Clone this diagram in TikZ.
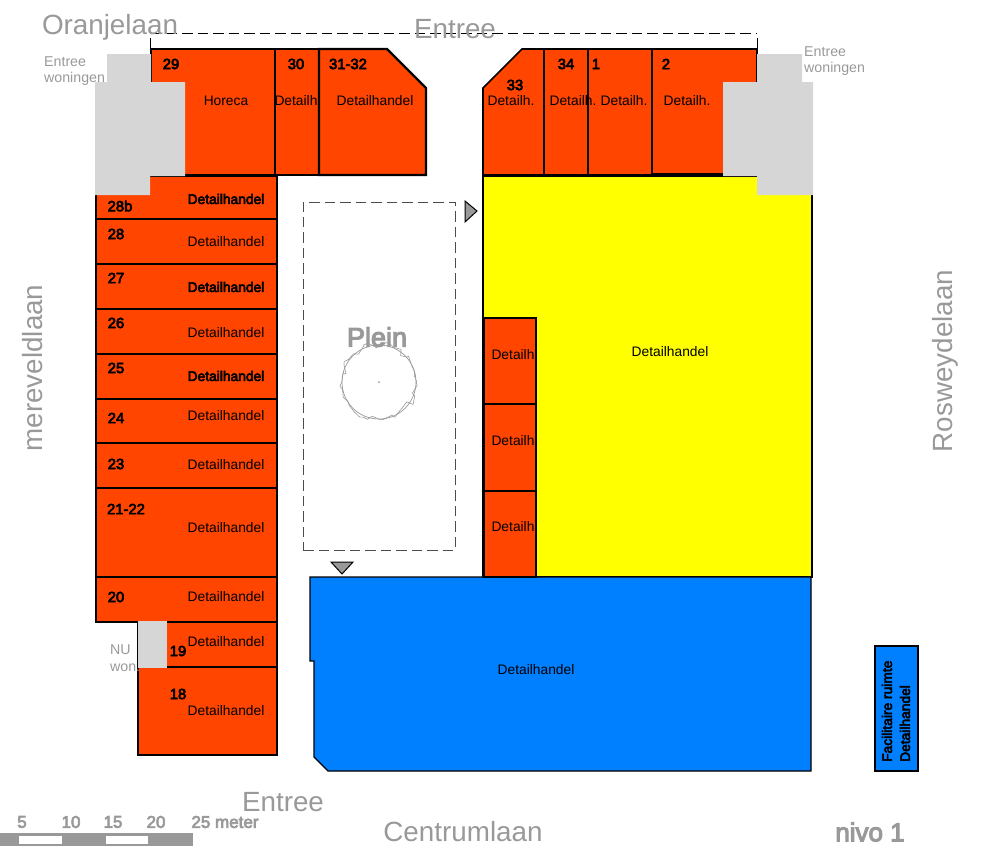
\documentclass[tikz,border=0pt]{standalone}
\usepackage{fontspec}
\setmainfont{Liberation Sans}
\newfontfamily\heavyfont[FakeBold=4]{Liberation Sans}
\usepackage{xcolor}
\usepackage{tikz}
\usetikzlibrary{decorations.pathmorphing}
\definecolor{shoporange}{HTML}{FF4500}
\definecolor{hallblue}{HTML}{0080FF}
\definecolor{hallyellow}{HTML}{FFFF00}
\definecolor{blockgrey}{HTML}{D6D6D6}
\definecolor{labelgrey}{HTML}{999999}
\tikzstyle{shop} = [rectangle, anchor=north west, inner sep=0pt, outer sep=0pt, draw=black, line width=2.4pt, fill=shoporange]
\tikzstyle{outline} = [draw=black, line width=1.4pt]
\tikzstyle{housing} = [fill=blockgrey, draw=none]
\tikzstyle{marker} = [fill=labelgrey, draw=black, line width=1pt]
\tikzstyle{street} = [inner sep=0pt, text=labelgrey, font=\fontsize{27.8}{27.8}\selectfont]
\tikzstyle{smallgrey} = [inner sep=0pt, anchor=west, text=labelgrey, font=\fontsize{14.2}{14.2}\selectfont]
\tikzstyle{scalenum} = [inner sep=0pt, text=labelgrey, font=\heavyfont\fontsize{17}{17}\selectfont]
\tikzstyle{trade} = [inner sep=0pt, yshift=-1pt, font=\fontsize{13.8}{13.8}\selectfont]
\tikzstyle{tradeheavy} = [inner sep=0pt, yshift=-1pt, font=\heavyfont\fontsize{13.8}{13.8}\selectfont]
\tikzstyle{unit} = [inner sep=0pt, font=\heavyfont\fontsize{14.8}{14.8}\selectfont]

\begin{document}
\begin{tikzpicture}[x=1pt, y=-1pt]
    \useasboundingbox (0,0) rectangle (982,860);

    % large halls
    \draw [outline, fill=hallyellow] (483,176) -- (812,176) -- (812,577) -- (483,577) -- cycle;
    \draw [outline, fill=hallblue] (310,577) -- (811,577) -- (811,771) -- (328,771) -- (314,757) -- (314,661) -- (310,661) -- cycle;
    \node (facility) [shop, fill=hallblue, minimum width=43pt, minimum height=125pt] at (875,646) {};

    % left column
    \node (s28b) [shop, minimum width=181pt, minimum height=43pt] at (96,176) {};
    \node (s28) [shop, minimum width=181pt, minimum height=45pt] at (96,219) {};
    \node (s27) [shop, minimum width=181pt, minimum height=45pt] at (96,264) {};
    \node (s26) [shop, minimum width=181pt, minimum height=45pt] at (96,309) {};
    \node (s25) [shop, minimum width=181pt, minimum height=45pt] at (96,354) {};
    \node (s24) [shop, minimum width=181pt, minimum height=44pt] at (96,399) {};
    \node (s23) [shop, minimum width=181pt, minimum height=45pt] at (96,443) {};
    \node (s21) [shop, minimum width=181pt, minimum height=89pt] at (96,488) {};
    \node (s20) [shop, minimum width=181pt, minimum height=45pt] at (96,577) {};
    \node (s19) [shop, minimum width=139pt, minimum height=45pt] at (138,622) {};
    \node (s18) [shop, minimum width=139pt, minimum height=88pt] at (138,667) {};

    % top left block
    \node (s29) [shop, minimum width=124pt, minimum height=126pt] at (151,49) {};
    \node (s30) [shop, minimum width=44pt, minimum height=126pt] at (275,49) {};
    \draw [shop] (319,49) -- (387,49) -- (426,88) -- (426,175) -- (319,175) -- cycle;

    % top right block
    \draw [shop, line width=1.6pt] (483,88) -- (522,49) -- (544,49) -- (544,175) -- (483,175) -- cycle;
    \node (s34) [shop, line width=1.6pt, minimum width=44pt, minimum height=126pt] at (544,49) {};
    \node (s1) [shop, line width=1.6pt, minimum width=64pt, minimum height=126pt] at (588,49) {};
    \node (s2) [shop, line width=1.6pt, minimum width=105pt, minimum height=125pt] at (652,49) {};

    % units inside the yellow hall
    \node (in1) [shop, minimum width=52pt, minimum height=86pt] at (484,318) {};
    \node (in2) [shop, minimum width=52pt, minimum height=87pt] at (484,404) {};
    \node (in3) [shop, minimum width=52pt, minimum height=86pt] at (484,491) {};

    % housing entrances
    \draw [housing] (107,54) -- (151,54) -- (151,82) -- (185,82) -- (185,176) -- (150,176) -- (150,195) -- (95,195) -- (95,82) -- (107,82) -- cycle;
    \draw [housing] (757,54) -- (802,54) -- (802,82) -- (813,82) -- (813,195) -- (757,195) -- (757,176) -- (723,176) -- (723,82) -- (757,82) -- cycle;

    \node (nu) [smallgrey] at (110,650) {NU};
    \node (won) [smallgrey] at (110,668) {won.};
    \draw [housing] (138,621) rectangle (167,668);

    % square, dashed limits
    \node (plot) [rectangle, anchor=north west, inner sep=0pt, minimum width=152pt, minimum height=348pt, draw=black!70, line width=0.8pt, dash pattern=on 10.5pt off 5pt] at (303,202) {};
    \coordinate (dashL) at (151,33);
    \coordinate (dashR) at (757,33);
    \draw [black, line width=0.8pt, dash pattern=on 10.5pt off 5pt] (dashL) -- (dashR);
    \draw [black, line width=0.8pt] (150,38) -- (150,50);
    \draw [black, line width=0.8pt] (757,38) -- (757,50);

    % tree
    \draw [labelgrey, line width=0.7pt] (379,382) circle (37);
    \draw [labelgrey, line width=0.6pt, decorate, decoration={random steps, segment length=5pt, amplitude=3.5pt}] (379,382) circle (37);
    \fill [labelgrey] (379,382) circle (1);

    % entrance markers
    \draw [marker, line join=miter] (465,201) -- (477,211) -- (465,222) -- cycle;
    \draw [marker] (331,562) -- (353,562) -- (342,574) -- cycle;

    % scale bar
    \fill [labelgrey] (0,833) rectangle (193,846);
    \fill [white] (19,836) rectangle (62,844);
    \fill [white] (106,836) rectangle (148,844);
    \node (n5) [scalenum] at (22,822) {5};
    \node (n10) [scalenum] at (71,822) {10};
    \node (n15) [scalenum] at (113,822) {15};
    \node (n20) [scalenum] at (156,822) {20};
    \node (n25) [scalenum] at (225,822) {25 meter};

    % streets
    \node (oranje) [street] at (110,27) {Oranjelaan};
    \node (entreeTop) [street] at (455,29) {Entree};
    \node (entreeLow) [street] at (283,802) {Entree};
    \node (centrum) [street] at (463,832) {Centrumlaan};
    \node (merev) [street, rotate=90] at (33,368) {mereveldlaan};
    \node (rosw) [street, rotate=90] at (945,361) {Rosweydelaan};
    \node (plein) [street, font=\heavyfont\fontsize{27}{27}\selectfont] at (377,337) {Plein};
    \node (nivo) [street, font=\heavyfont\fontsize{26}{26}\selectfont] at (870,832) {nivo 1};
    \node (woL1) [smallgrey] at (44,62) {Entree};
    \node (woL2) [smallgrey] at (44,79) {woningen};
    \node (woR1) [smallgrey] at (804,52) {Entree};
    \node (woR2) [smallgrey] at (804,69) {woningen};

    % unit numbers
    \node (u29) [unit] at (171,64) {29};
    \node (u30) [unit] at (296,64) {30};
    \node (u31) [unit] at (348,64) {31-32};
    \node (u33) [unit] at (515,85) {33};
    \node (u34) [unit] at (566,64) {34};
    \node (u1) [unit] at (596,64) {1};
    \node (u2) [unit] at (666,64) {2};
    \node (u28b) [unit] at (120,206) {28b};
    \node (u28) [unit] at (116,234) {28};
    \node (u27) [unit] at (116,278) {27};
    \node (u26) [unit] at (116,323) {26};
    \node (u25) [unit] at (116,368) {25};
    \node (u24) [unit] at (116,418) {24};
    \node (u23) [unit] at (116,464) {23};
    \node (u21) [unit] at (126,509) {21-22};
    \node (u20) [unit] at (116,597) {20};
    \node (u19) [unit] at (178,651) {19};
    \node (u18) [unit] at (178,694) {18};

    % trades
    \node (t29) [trade] at (226,100) {Horeca};
    \node (t30) [trade] at (296,100) {Detailh};
    \node (t31) [trade] at (375,100) {Detailhandel};
    \node (t33) [trade] at (511,100) {Detailh.};
    \node (t34) [trade] at (573,100) {Detailh.};
    \node (t1) [trade] at (624,100) {Detailh.};
    \node (t2) [trade] at (687,100) {Detailh.};
    \node (t28b) [tradeheavy] at (226,198) {Detailhandel};
    \node (t28) [trade] at (226,241) {Detailhandel};
    \node (t27) [tradeheavy] at (226,286) {Detailhandel};
    \node (t26) [trade] at (226,332) {Detailhandel};
    \node (t25) [tradeheavy] at (226,375) {Detailhandel};
    \node (t24) [trade] at (226,415) {Detailhandel};
    \node (t23) [trade] at (226,464) {Detailhandel};
    \node (t21) [trade] at (226,527) {Detailhandel};
    \node (t20) [trade] at (226,596) {Detailhandel};
    \node (t19) [trade] at (226,641) {Detailhandel};
    \node (t18) [trade] at (226,710) {Detailhandel};
    \node (tin1) [trade] at (513,354) {Detailh};
    \node (tin2) [trade] at (513,440) {Detailh};
    \node (tin3) [trade] at (513,526) {Detailh};
    \node (tyel) [trade] at (670,351) {Detailhandel};
    \node (tblue) [trade] at (536,669) {Detailhandel};
    \node (tfac1) [tradeheavy, rotate=90, anchor=west] at (887,761) {Facilitaire ruimte};
    \node (tfac2) [tradeheavy, rotate=90, anchor=west] at (905,761) {Detailhandel};

\end{tikzpicture}
\end{document}
